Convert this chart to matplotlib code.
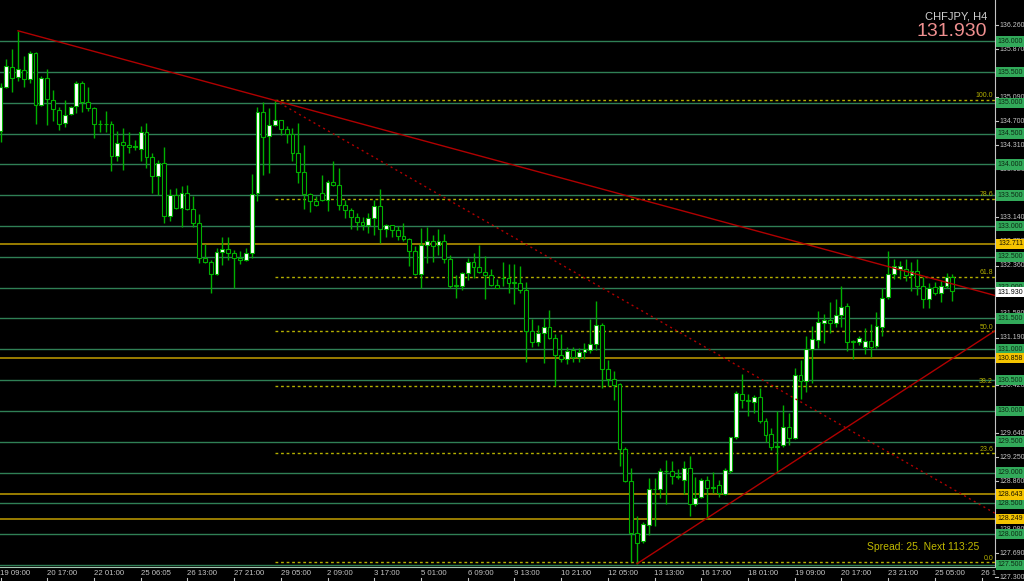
import numpy as np
import matplotlib.pyplot as plt

# CHFJPY H4 candles (open, high, low, close)
opens = [134.54, 135.26, 135.59, 135.42, 135.53, 135.39, 135.81, 134.97, 135.40, 135.05,
         134.88, 134.67, 134.82, 134.95, 135.33, 135.02, 134.91, 134.66, 134.66, 134.65,
         134.13, 134.36, 134.32, 134.28, 134.25, 134.53, 134.12, 133.81, 134.02, 133.17,
         133.51, 133.29, 133.53, 133.28, 133.05, 132.49, 132.42, 132.22, 132.58, 132.62,
         132.56, 132.49, 132.45, 132.57, 133.53, 134.85, 134.46, 134.64, 134.72, 134.57,
         134.50, 134.19, 133.87, 133.52, 133.41, 133.53, 133.43, 133.72, 133.67, 133.34,
         133.26, 133.14, 133.07, 133.02, 133.13, 133.33, 132.95, 133.01, 132.94, 132.84,
         132.79, 132.59, 132.22, 132.70, 132.75, 132.69, 132.76, 132.46, 132.04, 132.03,
         132.24, 132.41, 132.34, 132.26, 132.21, 132.05, 132.16, 132.15, 132.09, 132.08,
         131.97, 131.29, 131.12, 131.26, 131.36, 131.19, 130.91, 130.84, 130.99, 130.87,
         130.96, 130.99, 131.08, 131.39, 130.68, 130.51, 130.43, 129.38, 128.86, 128.01,
         127.89, 128.15, 128.73, 128.73, 129.03, 129.03, 128.95, 128.88, 129.08, 128.49,
         128.60, 128.88, 128.76, 128.79, 128.65, 129.03, 129.57, 130.27, 130.17, 130.15,
         130.23, 129.83, 129.62, 129.43, 129.45, 129.74, 129.56, 130.59, 130.49, 131.00,
         131.15, 131.43, 131.48, 131.43, 131.55, 131.70, 131.13, 131.12, 131.04, 131.14,
         131.05, 131.36, 131.85, 132.22, 132.31, 132.31, 132.20, 132.27, 132.02, 131.82,
         132.01, 131.91, 132.02, 132.18]
highs = [135.32, 135.72, 135.87, 136.17, 135.76, 135.85, 135.82, 135.44, 135.55, 135.21,
         134.94, 135.05, 134.95, 135.35, 135.35, 135.26, 134.93, 134.73, 134.87, 134.70,
         134.55, 134.60, 134.53, 134.39, 134.63, 134.67, 134.18, 134.08, 134.29, 133.61,
         133.62, 133.65, 133.67, 133.49, 133.19, 132.71, 132.45, 132.64, 132.82, 132.83,
         132.61, 132.60, 132.64, 133.85, 134.93, 135.02, 134.91, 135.05, 134.73, 134.62,
         134.59, 134.67, 134.32, 133.53, 133.49, 133.83, 133.75, 134.05, 133.94, 133.43,
         133.30, 133.21, 133.15, 133.22, 133.43, 133.61, 133.03, 133.02, 133.00, 133.05,
         132.80, 132.67, 132.97, 132.98, 132.86, 132.95, 132.87, 132.53, 132.21, 132.26,
         132.49, 132.56, 132.69, 132.52, 132.30, 132.14, 132.41, 132.38, 132.38, 132.35,
         132.10, 131.49, 131.39, 131.50, 131.63, 131.25, 131.25, 131.04, 131.03, 131.02,
         131.11, 131.49, 131.79, 131.43, 130.83, 130.65, 130.45, 129.42, 129.07, 128.29,
         128.19, 128.91, 128.91, 129.07, 129.20, 129.19, 129.05, 129.19, 129.26, 128.93,
         128.91, 128.94, 129.01, 128.88, 129.07, 129.58, 130.33, 130.60, 130.27, 130.26,
         130.37, 129.88, 129.72, 130.00, 130.10, 129.96, 130.69, 130.82, 131.21, 131.38,
         131.62, 131.57, 131.76, 131.81, 132.02, 131.75, 131.15, 131.22, 131.34, 131.41,
         131.61, 131.99, 132.59, 132.46, 132.44, 132.46, 132.41, 132.46, 132.18, 132.08,
         132.10, 132.11, 132.24, 132.22]
lows = [134.37, 135.24, 135.18, 135.35, 135.25, 135.32, 134.66, 134.95, 134.64, 134.70,
        134.56, 134.61, 134.81, 134.83, 134.86, 134.87, 134.43, 134.53, 134.53, 133.90,
        134.06, 133.91, 134.18, 134.24, 134.06, 133.95, 133.53, 133.51, 133.05, 133.09,
        133.28, 132.99, 133.26, 132.99, 132.40, 132.40, 131.92, 132.21, 132.37, 132.45,
        131.99, 132.38, 132.44, 132.48, 133.41, 133.83, 133.86, 134.63, 134.48, 134.35,
        134.05, 133.70, 133.27, 133.23, 133.33, 133.41, 133.25, 133.65, 133.26, 133.13,
        132.95, 132.94, 132.93, 132.89, 132.86, 132.73, 132.83, 132.83, 132.77, 132.75,
        132.35, 132.21, 131.99, 132.40, 132.41, 132.53, 132.40, 131.99, 131.83, 131.97,
        132.13, 132.15, 132.24, 131.81, 132.03, 131.99, 132.02, 131.92, 131.74, 131.91,
        130.80, 131.04, 131.05, 130.77, 131.16, 130.40, 130.80, 130.76, 130.80, 130.80,
        130.85, 130.94, 130.99, 130.37, 130.40, 130.17, 129.10, 128.84, 127.54, 127.52,
        127.85, 127.99, 128.13, 128.58, 128.49, 128.82, 128.89, 128.65, 128.29, 128.46,
        128.58, 128.24, 128.66, 128.60, 128.64, 129.00, 129.55, 130.04, 129.91, 129.96,
        129.80, 129.50, 129.37, 129.00, 129.41, 129.45, 129.54, 130.20, 130.31, 130.46,
        131.02, 131.10, 131.26, 131.36, 131.36, 130.98, 130.84, 131.07, 130.92, 130.87,
        131.02, 131.21, 131.81, 132.14, 132.14, 132.11, 131.94, 131.88, 131.67, 131.67,
        131.88, 131.77, 131.99, 131.78]
closes = [135.26, 135.60, 135.40, 135.55, 135.39, 135.81, 134.97, 135.40, 135.06, 134.90,
          134.66, 134.81, 134.94, 135.33, 135.02, 134.91, 134.66, 134.65, 134.65, 134.13,
          134.35, 134.32, 134.28, 134.30, 134.53, 134.12, 133.81, 134.02, 133.17, 133.51,
          133.29, 133.53, 133.28, 133.05, 132.48, 132.42, 132.22, 132.58, 132.62, 132.56,
          132.49, 132.45, 132.56, 133.52, 134.85, 134.45, 134.64, 134.72, 134.57, 134.50,
          134.19, 133.87, 133.52, 133.41, 133.34, 133.43, 133.72, 133.67, 133.34, 133.26,
          133.14, 133.07, 133.02, 133.13, 133.33, 132.95, 133.01, 132.94, 132.84, 132.79,
          132.59, 132.22, 132.70, 132.75, 132.68, 132.76, 132.46, 132.03, 132.02, 132.24,
          132.41, 132.34, 132.26, 132.21, 132.05, 132.00, 132.15, 132.08, 132.08, 131.97,
          131.29, 131.12, 131.26, 131.36, 131.19, 130.91, 130.84, 130.98, 130.87, 130.95,
          131.00, 131.08, 131.39, 130.68, 130.51, 130.42, 129.38, 128.87, 128.01, 127.86,
          128.16, 128.73, 128.74, 129.03, 129.02, 128.95, 128.92, 129.08, 128.49, 128.58,
          128.88, 128.75, 128.75, 128.66, 129.04, 129.57, 130.29, 130.17, 130.16, 130.23,
          129.83, 129.61, 129.41, 129.41, 129.74, 129.56, 130.59, 130.49, 131.00, 131.16,
          131.45, 131.47, 131.43, 131.55, 131.69, 131.12, 131.12, 131.18, 131.14, 131.04,
          131.37, 131.84, 132.22, 132.35, 132.35, 132.20, 132.27, 132.02, 131.82, 131.99,
          131.91, 132.02, 132.18, 131.95]

time_labels = ['19 09:00', '20 17:00', '22 01:00', '25 06:05', '26 13:00', '27 21:00',
               '29 05:00', '2 09:00', '3 17:00', '5 01:00', '6 09:00', '9 13:00',
               '10 21:00', '12 05:00', '13 13:00', '16 17:00', '18 01:00', '19 09:00',
               '20 17:00', '23 21:00', '25 05:00', '26 1']
label_step = 8

price_ticks = [136.260, 135.870, 135.480, 135.090, 134.700, 134.310, 133.920, 133.530,
               133.140, 132.750, 132.360, 131.970, 131.580, 131.190, 130.800, 130.420,
               130.030, 129.640, 129.250, 128.860, 128.470, 128.080, 127.690, 127.300]
grid_levels = [136.0, 135.5, 135.0, 134.5, 134.0, 133.5, 133.0, 132.5, 132.0,
               131.5, 131.0, 130.5, 130.0, 129.5, 129.0, 128.5, 128.0, 127.5]
zone_levels = [132.711, 130.858, 128.643, 128.249]

fib_start = 47
fib_low = 127.54
fib_high = 135.05
fib_ratios = [0.0, 23.6, 38.2, 50.0, 61.8, 78.6, 100.0]

trend_down = [(3, 136.17), (47, 135.04)]
trend_dotted = [(47, 135.04), (109, 131.67)]
trend_up = [(109, 127.52), (133, 129.00)]

symbol = 'CHFJPY, H4'
last_price = 131.930
info_text = 'Spread: 25. Next 113:25'

FONT = ['Liberation Sans', 'DejaVu Sans']
GREEN = '#00b000'
LINE_GREEN = '#2f7f55'
OLIVE = '#9a7d00'
FIB = '#b4b000'
RED = '#b00000'
GRAY = '#c4c4c4'

fig = plt.figure(figsize=(10.24, 5.81), dpi=100, facecolor='black')
ax = fig.add_axes([0, 14 / 581, 995 / 1024, 567 / 581], facecolor='black')
ax.set_xlim(-0.086, 170.3)
ax.set_ylim(127.466, 136.670)
x_right = ax.get_xlim()[1]

# horizontal level lines
for lv in grid_levels:
    ax.axhline(lv, color=LINE_GREEN, lw=1.0, zorder=1)
for lv in zone_levels:
    ax.axhline(lv, color=OLIVE, lw=1.4, zorder=1)

# fibonacci retracement
for r in fib_ratios:
    lv = fib_low + (fib_high - fib_low) * r / 100
    ax.plot([fib_start, x_right], [lv, lv], color=FIB, lw=1.0,
            linestyle=(0, (2, 2)), zorder=2)
    ax.text(0.998, lv + 0.01, f'{r:.1f}', transform=ax.get_yaxis_transform(),
            ha='right', va='bottom', fontsize=5, color=FIB, family=FONT, zorder=6)


def ray(pts, **kw):
    (x0, y0), (x1, y1) = pts
    slope = (y1 - y0) / (x1 - x0)
    ax.plot([x0, x_right], [y0, y0 + slope * (x_right - x0)], **kw)


ray(trend_down, color=RED, lw=1.0, zorder=5)
ray(trend_dotted, color=RED, lw=1.0, linestyle=(0, (1.5, 2.5)), zorder=5)
ray(trend_up, color=RED, lw=1.0, zorder=5)

# candles
o = np.array(opens)
h = np.array(highs)
l = np.array(lows)
c = np.array(closes)
xs = np.arange(len(o))
bull = c >= o
ax.vlines(xs, l, h, color=GREEN, lw=1.0, zorder=3)
ax.bar(xs, np.maximum(np.abs(c - o), 0.004), bottom=np.minimum(o, c), width=0.66,
       color=np.where(bull, 'white', 'black'), edgecolor=GREEN, linewidth=0.8, zorder=4)

# frame
for s in ['top', 'left']:
    ax.spines[s].set_visible(False)
ax.spines['right'].set_color(GRAY)
ax.spines['bottom'].set_color('#a8c8b4')
ax.set_xticks([])
ax.set_yticks([])

# price scale
ytr = ax.get_yaxis_transform()
for p in price_ticks:
    ax.plot([1.0, 1.003], [p, p], transform=ytr, clip_on=False, color=GRAY, lw=0.8)
    ax.text(1.004, p, f'{p:.3f}', transform=ytr, ha='left', va='center',
            fontsize=5, color=GRAY, family=FONT, clip_on=False)


def price_box(p, fc, tc):
    ax.text(1.0157, p, f'{p:.3f}', transform=ytr, ha='center', va='center',
            fontsize=5, color=tc, family=FONT, clip_on=False, zorder=10,
            bbox=dict(boxstyle='square,pad=0.25', fc=fc, ec='none'))


for lv in grid_levels:
    price_box(lv, '#32aa5a', '#0c2a14')
for lv in zone_levels:
    price_box(lv, '#f5c400', '#1a1400')
price_box(last_price, 'white', 'black')

# time scale
xtr = ax.get_xaxis_transform()
for k, lab in enumerate(time_labels):
    xi = k * label_step
    ax.text(xi - 0.02, -0.0115, lab, transform=xtr, ha='left', va='center',
            fontsize=5.6, color=GRAY, family=FONT, clip_on=False)
    ax.plot([xi, xi], [-0.0194, -0.0247], transform=xtr, clip_on=False, color=GRAY, lw=0.8)

# header and info text
fig.text(987 / 1024, 1 - 16.5 / 581, symbol, ha='right', va='center', fontsize=8,
         color='#d0d0d0', family=FONT)
fig.text(987 / 1024, 1 - 31.7 / 581, f'{last_price:.3f}', ha='right', va='center',
         fontsize=14, color='#f09090', family=FONT)
fig.text(979 / 1024, 1 - 547 / 581, info_text, ha='right', va='center', fontsize=7.5,
         color='#c0b800', family=FONT)

fig.savefig('out.png', dpi=100, facecolor='black')
